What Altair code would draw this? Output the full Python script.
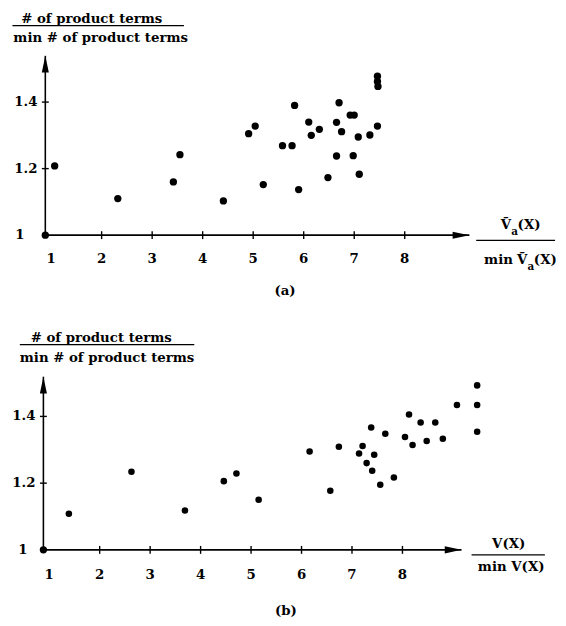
import altair as alt
import pandas as pd

FONT = "DejaVu Serif"
FS = 13.5
FW = "bold"

# ---------------- data ----------------
# panel (a): x = V~a(X)/min V~a(X), y = #product terms / min #product terms
a_x = [1.07, 2.32, 3.42, 3.55, 4.41, 4.91, 5.04, 5.20, 5.58, 5.77, 5.82, 5.90,
       6.10, 6.15, 6.31, 6.48, 6.65, 6.65, 6.70, 6.75, 6.92, 7.00, 6.98, 7.08,
       7.10, 7.31, 7.46, 7.46, 7.46, 7.47]
a_y = [1.208, 1.110, 1.160, 1.242, 1.103, 1.305, 1.328, 1.152, 1.269, 1.269,
       1.390, 1.137, 1.340, 1.300, 1.318, 1.173, 1.339, 1.238, 1.398, 1.311,
       1.361, 1.361, 1.239, 1.295, 1.183, 1.301, 1.328, 1.478, 1.462, 1.447]

# panel (b): x = V(X)/min V(X)
b_x = [1.39, 2.63, 3.69, 4.46, 4.71, 5.15, 6.16, 6.57, 6.74, 7.14, 7.21, 7.29,
       7.38, 7.40, 7.44, 7.56, 7.66, 7.83, 8.05, 8.13, 8.20, 8.36, 8.48, 8.65,
       8.80, 9.08, 9.48, 9.48, 9.48]
b_y = [1.108, 1.234, 1.118, 1.206, 1.229, 1.150, 1.295, 1.177, 1.309, 1.289,
       1.311, 1.260, 1.367, 1.237, 1.285, 1.195, 1.348, 1.217, 1.338, 1.406,
       1.314, 1.382, 1.326, 1.382, 1.333, 1.434, 1.493, 1.434, 1.354]

x_tick_values = [2, 3, 4, 5, 6, 7, 8]
x_label_values = [1, 2, 3, 4, 5, 6, 7, 8]
y_tick_values = [1.2, 1.4]
y_label_values = [1.2, 1.4]
y_base = 1.0
x_origin = 0.885

y_title_top = "# of product terms"
y_title_bottom = "min # of product terms"

a_axis_end = [9.28, 1.539]   # x arrow tip, y arrow tip
b_axis_end = [9.17, 1.519]

RIGHT_ARROW = "M0,0L-2,-0.42L-2,0.42Z"
UP_ARROW = "M0,0L-0.42,2L0.42,2Z"

dummy = pd.DataFrame({"d": [0]})


def txt(s, x, y, size=FS, align="left", baseline="alphabetic"):
    return alt.Chart(dummy).mark_text(
        text=s, font=FONT, fontSize=size, fontWeight=FW, align=align,
        baseline=baseline, color="black"
    ).encode(x=alt.value(x), y=alt.value(y))


def hline(x1, x2, y, w=1.3):
    return alt.Chart(dummy).mark_rule(color="black", strokeWidth=w).encode(
        x=alt.value(x1), x2=alt.value(x2), y=alt.value(y)
    )


def panel(xs, ys, xrange, yrange, ends, dot_size, xlab_dy, one_dx, extras):
    sx = alt.Scale(domain=[1, 10], range=xrange, nice=False, zero=False)
    sy = alt.Scale(domain=[1, 1.6], range=yrange, nice=False, zero=False)

    def X(f):
        return alt.X(f, type="quantitative", scale=sx, axis=None)

    def Y(f):
        return alt.Y(f, type="quantitative", scale=sy, axis=None)

    x_end, y_end = ends
    hx = pd.DataFrame({"x": [x_origin], "x2": [x_end], "y": [y_base]})
    vy = pd.DataFrame({"x": [x_origin], "y": [y_base], "y2": [y_end]})
    h_axis = alt.Chart(hx).mark_rule(color="black", strokeWidth=1.6).encode(
        x=X("x"), x2="x2", y=Y("y"))
    v_axis = alt.Chart(vy).mark_rule(color="black", strokeWidth=1.6).encode(
        x=X("x"), y=Y("y"), y2="y2")
    r_head = alt.Chart(pd.DataFrame({"x": [x_end], "y": [y_base]})).mark_point(
        shape=RIGHT_ARROW, size=289, filled=True, color="black", opacity=1
    ).encode(x=X("x"), y=Y("y"))
    u_head = alt.Chart(pd.DataFrame({"x": [x_origin], "y": [y_end]})).mark_point(
        shape=UP_ARROW, size=289, filled=True, color="black", opacity=1
    ).encode(x=X("x"), y=Y("y"))

    xt = pd.DataFrame({"x": x_tick_values, "y": [y_base] * len(x_tick_values)})
    x_ticks = alt.Chart(xt).mark_tick(orient="vertical", size=8, thickness=1.4,
                                      color="black", opacity=1).encode(x=X("x"), y=Y("y"))
    yt = pd.DataFrame({"x": [x_origin] * len(y_tick_values), "y": y_tick_values})
    y_ticks = alt.Chart(yt).mark_tick(orient="horizontal", size=7, thickness=1.4,
                                      color="black", opacity=1).encode(x=X("x"), y=Y("y"))

    xl = pd.DataFrame({"x": x_label_values, "y": [y_base] * len(x_label_values),
                       "t": [str(v) for v in x_label_values]})
    x_labels = alt.Chart(xl).mark_text(font=FONT, fontSize=FS, fontWeight=FW,
                                       baseline="middle", dy=xlab_dy, color="black").encode(
        x=X("x"), y=Y("y"), text="t:N")
    yl = pd.DataFrame({"x": [x_origin] * len(y_label_values), "y": y_label_values,
                       "t": [f"{v:.1f}" for v in y_label_values]})
    y_labels = alt.Chart(yl).mark_text(font=FONT, fontSize=FS, fontWeight=FW,
                                       baseline="middle", align="right", dx=-8,
                                       color="black").encode(
        x=X("x"), y=Y("y"), text="t:N")
    y1 = pd.DataFrame({"x": [x_origin], "y": [y_base], "t": ["1"]})
    y_one = alt.Chart(y1).mark_text(font=FONT, fontSize=FS, fontWeight=FW,
                                    baseline="middle", align="right", dx=one_dx,
                                    color="black").encode(
        x=X("x"), y=Y("y"), text="t:N")

    origin = alt.Chart(pd.DataFrame({"x": [x_origin], "y": [y_base]})).mark_circle(
        size=55, color="black", opacity=1).encode(x=X("x"), y=Y("y"))

    pts = alt.Chart(pd.DataFrame({"x": xs, "y": ys})).mark_circle(
        size=dot_size, color="black", opacity=1).encode(x=X("x"), y=Y("y"))

    return alt.layer(h_axis, v_axis, r_head, u_head, x_ticks, y_ticks,
                     x_labels, y_labels, y_one, origin, pts, *extras)


extras_a = [
    txt(y_title_top, 85, 11, align="center"),
    hline(4.5, 178.5, 13.5),
    txt(y_title_bottom, 94, 30, align="center"),
    # x title: V~a(X) / min V~a(X)
    txt("\u1E7C", 500, 220),
    txt("a", 510.5, 226, size=10.5),
    txt("(X)", 517, 220),
    hline(475, 555, 231.3),
    txt("min", 483, 255),
    txt("\u1E7C", 516.5, 255),
    txt("a", 527, 261, size=10.5),
    txt("(X)", 533.5, 255),
    txt("(a)", 281, 287, align="center"),
]

extras_b = [
    txt(y_title_top, 94.6, 334.5, align="center"),
    hline(12, 189, 337),
    txt(y_title_bottom, 100.5, 355, align="center"),
    txt("V(X)", 508, 543.5, align="center"),
    hline(470.3, 544.7, 550.3),
    txt("min V(X)", 510.5, 567, align="center"),
    txt("(b)", 282, 611, align="center"),
]

panel_a = panel(a_x, a_y, [43.75, 505.0], [226.0, 23.5], a_axis_end, 55, 24, -21, extras_a)
panel_b = panel(b_x, b_y, [41.8, 502.6], [545.3, 342.2], b_axis_end, 44, 26, -16, extras_b)

chart = (
    alt.layer(panel_a, panel_b)
    .resolve_scale(x="independent", y="independent")
    .properties(width=558, height=612, padding=0, background="white",
                autosize=alt.AutoSizeParams(type="none"))
    .configure_view(strokeWidth=0, stroke="transparent")
)

chart.save("out.html", embed_options={"renderer": "svg", "actions": False})
